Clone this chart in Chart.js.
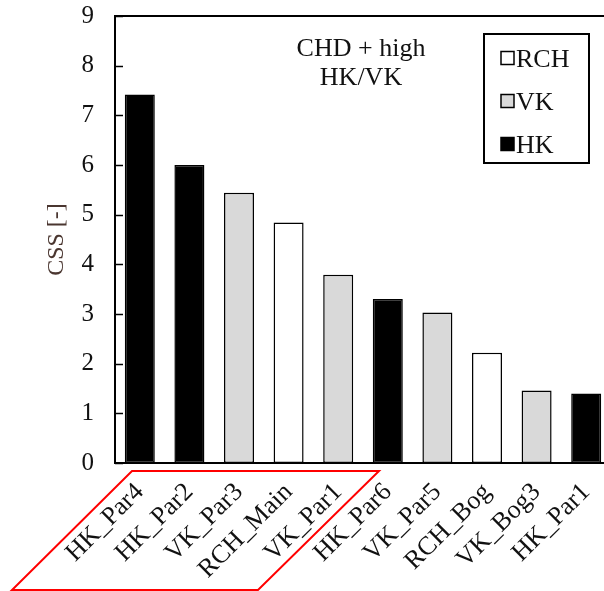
<!DOCTYPE html>
<html>
<head>
<meta charset="utf-8">
<script src="https://cdn.jsdelivr.net/npm/chart.js@4/dist/chart.umd.min.js"></script>
<style>
  html, body { margin: 0; padding: 0; background: #fff; overflow: hidden; }
  #wrap { position: absolute; left: 0; top: 0; width: 625px; height: 591px; }
</style>
</head>
<body>
<div id="wrap"><canvas id="c"></canvas></div>
<script>
// Sites, ordered by CSS (composite scaled sensitivity)
const categories = ['HK_Par4', 'HK_Par2', 'VK_Par3', 'RCH_Main', 'VK_Par1',
                    'HK_Par6', 'VK_Par5', 'RCH_Bog', 'VK_Bog3', 'HK_Par1'];
const cssValues  = [7.42, 6.00, 5.44, 4.84, 3.79, 3.30, 3.03, 2.22, 1.46, 1.40];
const paramGroup = ['HK', 'HK', 'VK', 'RCH', 'VK', 'HK', 'VK', 'RCH', 'VK', 'HK'];
const groups     = ['RCH', 'VK', 'HK'];
const groupFill  = { RCH: '#ffffff', VK: '#d9d9d9', HK: '#000000' };
const yTicks     = [0, 1, 2, 3, 4, 5, 6, 7, 8, 9];
const noteLines  = ['CHD + high', 'HK/VK'];

const SERIF = '"Liberation Serif", "Times New Roman", serif';

const datasets = groups.map(g => ({
  label: g,
  data: cssValues.map((v, i) => paramGroup[i] === g ? v : null),
  backgroundColor: groupFill[g],
  borderColor: '#000',
  borderWidth: 1.5,
  borderSkipped: false
}));

// frame, inward tick marks, note text, legend and highlight outline
const decor = {
  id: 'decor',
  afterDraw(chart) {
    const { ctx, chartArea: a, scales } = chart;
    const y = scales.y;
    ctx.save();
    // inward ticks
    ctx.strokeStyle = '#000';
    ctx.lineWidth = 1.5;
    yTicks.forEach(t => {
      const py = Math.round(y.getPixelForValue(t)) + 0.5;
      ctx.beginPath();
      ctx.moveTo(a.left, py);
      ctx.lineTo(a.left + 8, py);
      ctx.stroke();
    });
    // plot frame
    ctx.lineWidth = 2;
    ctx.strokeRect(a.left, a.top, a.right - a.left, a.bottom - a.top);

    // note text
    ctx.fillStyle = '#111';
    ctx.font = '26px ' + SERIF;
    ctx.textAlign = 'center';
    ctx.textBaseline = 'alphabetic';
    noteLines.forEach((s, i) => ctx.fillText(s, 361, 56 + i * 29));

    // legend box
    const lx = 484, ly = 34, lw = 105, lh = 129;
    ctx.lineWidth = 2;
    ctx.strokeStyle = '#000';
    ctx.strokeRect(lx, ly, lw, lh);
    ctx.font = '26px ' + SERIF;
    ctx.textAlign = 'left';
    chart.data.datasets.forEach((ds, i) => {
      const cy = 58 + i * 43;
      ctx.fillStyle = ds.backgroundColor;
      ctx.fillRect(501, cy - 6.5, 13, 13);
      ctx.lineWidth = 1.5;
      ctx.strokeStyle = '#000';
      ctx.strokeRect(501, cy - 6.5, 13, 13);
      ctx.fillStyle = '#111';
      ctx.fillText(ds.label, 516, cy + 9);
    });

    // red outline around the first five sites
    ctx.strokeStyle = '#ff0000';
    ctx.lineWidth = 2;
    ctx.beginPath();
    ctx.moveTo(132, 471);
    ctx.lineTo(379, 471);
    ctx.lineTo(258, 590);
    ctx.lineTo(12, 590);
    ctx.closePath();
    ctx.stroke();
    ctx.restore();
  }
};

new Chart(document.getElementById('c'), {
  type: 'bar',
  data: { labels: categories, datasets },
  plugins: [decor],
  options: {
    responsive: true,
    maintainAspectRatio: false,
    animation: false,
    layout: { padding: { left: 0, right: 14, top: 16, bottom: 0 } },
    plugins: { legend: { display: false }, tooltip: { enabled: false } },
    datasets: { bar: { skipNull: true, categoryPercentage: 1, barPercentage: 0.605 } },
    scales: {
      x: {
        grid: { display: false },
        border: { display: false },
        ticks: {
          minRotation: 45, maxRotation: 45, autoSkip: false, padding: 6,
          color: '#111', font: { family: SERIF, size: 26 }
        },
        afterFit(s) { s.height = 128; s.paddingLeft = 0; s.paddingRight = 0; }
      },
      y: {
        min: 0, max: 9,
        grid: { display: false },
        border: { display: false },
        afterBuildTicks(s) { s.ticks = yTicks.map(v => ({ value: v })); },
        ticks: {
          padding: 13, color: '#111', font: { family: SERIF, size: 25 }
        },
        title: {
          display: true, text: 'CSS [-]', color: '#4a3630',
          font: { family: SERIF, size: 24 }, padding: { top: 42, bottom: 0 }
        },
        afterFit(s) { s.width = 115; s.paddingTop = 0; s.paddingBottom = 0; }
      }
    }
  }
});
</script>
</body>
</html>
